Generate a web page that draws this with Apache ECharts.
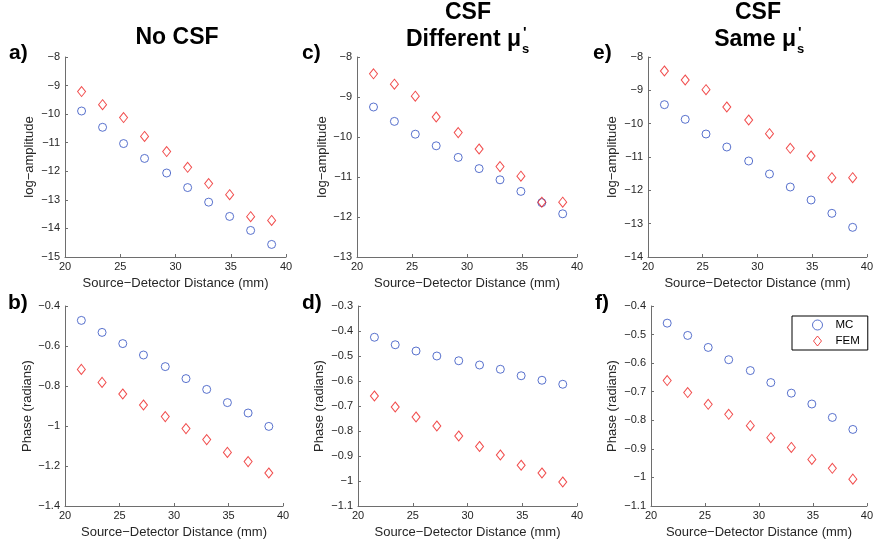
<!DOCTYPE html>
<html><head><meta charset="utf-8">
<script src="https://cdn.jsdelivr.net/npm/echarts@6/dist/echarts.min.js"></script>
<style>html,body{margin:0;padding:0;background:#fff}#c{width:876px;height:546px}</style>
</head><body><div id="c"></div>
<script>
// Source-detector distances (mm)
const distance = [21.5, 23.4, 25.3, 27.2, 29.2, 31.1, 33.0, 34.9, 36.8, 38.7];

// a) No CSF, log-amplitude
const aMC  = [-9.89, -10.46, -11.03, -11.55, -12.06, -12.57, -13.08, -13.58, -14.07, -14.56];
const aFEM = [-9.21, -9.67, -10.12, -10.78, -11.31, -11.86, -12.43, -12.82, -13.59, -13.72];
// c) CSF different mu_s', log-amplitude
const cMC  = [-9.25, -9.61, -9.93, -10.22, -10.51, -10.79, -11.07, -11.36, -11.64, -11.92];
const cFEM = [-8.42, -8.68, -8.98, -9.50, -9.89, -10.30, -10.74, -10.98, -11.63, -11.63];
// e) CSF same mu_s', log-amplitude
const eMC  = [-9.43, -9.87, -10.31, -10.70, -11.12, -11.51, -11.90, -12.29, -12.69, -13.11];
const eFEM = [-8.42, -8.69, -8.98, -9.50, -9.89, -10.30, -10.74, -10.97, -11.62, -11.62];
// b) No CSF, phase
const bMC  = [-0.472, -0.532, -0.588, -0.645, -0.703, -0.763, -0.817, -0.883, -0.935, -1.002];
const bFEM = [-0.717, -0.782, -0.840, -0.895, -0.953, -1.013, -1.068, -1.132, -1.178, -1.235];
// d) CSF different mu_s', phase
const dMC  = [-0.425, -0.455, -0.480, -0.500, -0.519, -0.536, -0.553, -0.579, -0.597, -0.613];
const dFEM = [-0.660, -0.704, -0.744, -0.780, -0.820, -0.862, -0.896, -0.937, -0.968, -1.004];
// f) CSF same mu_s', phase
const fMC  = [-0.460, -0.503, -0.545, -0.588, -0.626, -0.668, -0.705, -0.743, -0.790, -0.832];
const fFEM = [-0.661, -0.703, -0.744, -0.779, -0.819, -0.861, -0.895, -0.937, -0.968, -1.006];

// axis ranges [min, max, interval]
const yRanges = [[-15, -8, 1], [-13, -8, 1], [-14, -8, 1], [-1.4, -0.4, 0.2], [-1.1, -0.3, 0.1], [-1.1, -0.4, 0.1]];
const xRange = [20, 40, 5];
const yNames = ['log\u2212amplitude', 'log\u2212amplitude', 'log\u2212amplitude', 'Phase (radians)', 'Phase (radians)', 'Phase (radians)'];
const xName = 'Source\u2212Detector Distance (mm)';
const mcSets = [aMC, cMC, eMC, bMC, dMC, fMC];
const femSets = [aFEM, cFEM, eFEM, bFEM, dFEM, fFEM];

const grids = [
  {left: 65, top: 57, width: 221, height: 200},
  {left: 357, top: 57, width: 220, height: 200},
  {left: 648, top: 57, width: 219, height: 200},
  {left: 65, top: 306, width: 218, height: 200},
  {left: 358, top: 306, width: 219, height: 200},
  {left: 651, top: 306, width: 216, height: 200}
];
const yNameGaps = [29, 28, 29, 31, 32, 32];

const BLUE = '#2f4fc0', RED = '#ee2020';
const axisColor = '#6e6e6e', labelColor = '#262626';
const FONT = '"Liberation Sans", Arial, sans-serif';
const fmt = v => String(v).replace('-', '\u2212');

const xAxes = [], yAxes = [], series = [];
grids.forEach((g, i) => {
  xAxes.push({
    gridIndex: i, type: 'value', min: xRange[0], max: xRange[1], interval: xRange[2],
    name: xName, nameLocation: 'middle', nameGap: 20,
    nameTextStyle: {fontFamily: FONT, fontSize: 13, color: labelColor},
    axisLine: {show: true, lineStyle: {color: axisColor, width: 1}},
    axisTick: {show: true, inside: true, length: 3, lineStyle: {color: axisColor}},
    axisLabel: {fontFamily: FONT, fontSize: 11, color: labelColor, margin: 4, formatter: fmt},
    splitLine: {show: false}
  });
  const r = yRanges[i];
  yAxes.push({
    gridIndex: i, type: 'value', min: r[0], max: r[1], interval: r[2],
    name: yNames[i], nameLocation: 'middle', nameGap: yNameGaps[i], nameRotate: 90,
    nameTextStyle: {fontFamily: FONT, fontSize: 13, color: labelColor},
    axisLine: {show: true, lineStyle: {color: axisColor, width: 1}},
    axisTick: {show: true, inside: true, length: 3, lineStyle: {color: axisColor}},
    axisLabel: {fontFamily: FONT, fontSize: 11, color: labelColor, margin: 5,
      formatter: v => fmt(Math.round(v * 100) / 100)},
    splitLine: {show: false}
  });
  series.push({
    name: 'MC', type: 'scatter', xAxisIndex: i, yAxisIndex: i,
    symbol: 'circle', symbolSize: 8,
    itemStyle: {color: 'rgba(0,0,0,0)', borderColor: BLUE, borderWidth: 1},
    data: distance.map((d, k) => [d, mcSets[i][k]])
  });
  series.push({
    name: 'FEM', type: 'scatter', xAxisIndex: i, yAxisIndex: i,
    symbol: 'diamond', symbolSize: [8, 10],
    itemStyle: {color: 'rgba(0,0,0,0)', borderColor: RED, borderWidth: 1},
    data: distance.map((d, k) => [d, femSets[i][k]])
  });
});

const titleFont = 'bold 23px ' + FONT;
const panelFont = 'bold 21px ' + FONT;
const t = (text, x, y, font, align) => ({type: 'text', x: x, y: y, silent: true,
  style: {text: text, font: font, fill: '#000', align: align || 'center', verticalAlign: 'middle'}});

const graphic = [
  t('No CSF', 177, 38, titleFont),
  t('CSF', 468, 13, titleFont),
  t('Different \u03bc', 521, 40, titleFont, 'right'),
  t('s', 522, 49, 'bold 13px ' + FONT, 'left'),
  t("'", 523, 33, 'bold 15px ' + FONT, 'left'),
  t('CSF', 758, 13, titleFont),
  t('Same \u03bc', 796, 40, titleFont, 'right'),
  t('s', 797, 49, 'bold 13px ' + FONT, 'left'),
  t("'", 798, 33, 'bold 15px ' + FONT, 'left'),
  t('a)', 9, 53, panelFont, 'left'),
  t('c)', 302, 53, panelFont, 'left'),
  t('e)', 593, 53, panelFont, 'left'),
  t('b)', 8, 303, panelFont, 'left'),
  t('d)', 302, 303, panelFont, 'left'),
  t('f)', 595, 303, panelFont, 'left')
];

const chart = echarts.init(document.getElementById('c'), null, {renderer: 'canvas'});
chart.setOption({
  animation: false,
  backgroundColor: '#fff',
  grid: grids,
  xAxis: xAxes,
  yAxis: yAxes,
  series: series,
  graphic: graphic,
  legend: {
    left: 792, top: 316, orient: 'vertical',
    borderColor: '#000', borderWidth: 1, borderRadius: 0,
    padding: [3, 8, 3, 12], itemGap: 4, itemWidth: 26, itemHeight: 10,
    textStyle: {fontFamily: FONT, fontSize: 11.5, color: '#000'},
    data: [
      {name: 'MC', icon: 'circle', itemStyle: {color: 'rgba(0,0,0,0)', borderColor: BLUE, borderWidth: 1}},
      {name: 'FEM', icon: 'path://M0,0M26,10M9,5L13,0L17,5L13,10Z',
       itemStyle: {color: 'rgba(0,0,0,0)', borderColor: RED, borderWidth: 1}}
    ]
  }
});
</script></body></html>
